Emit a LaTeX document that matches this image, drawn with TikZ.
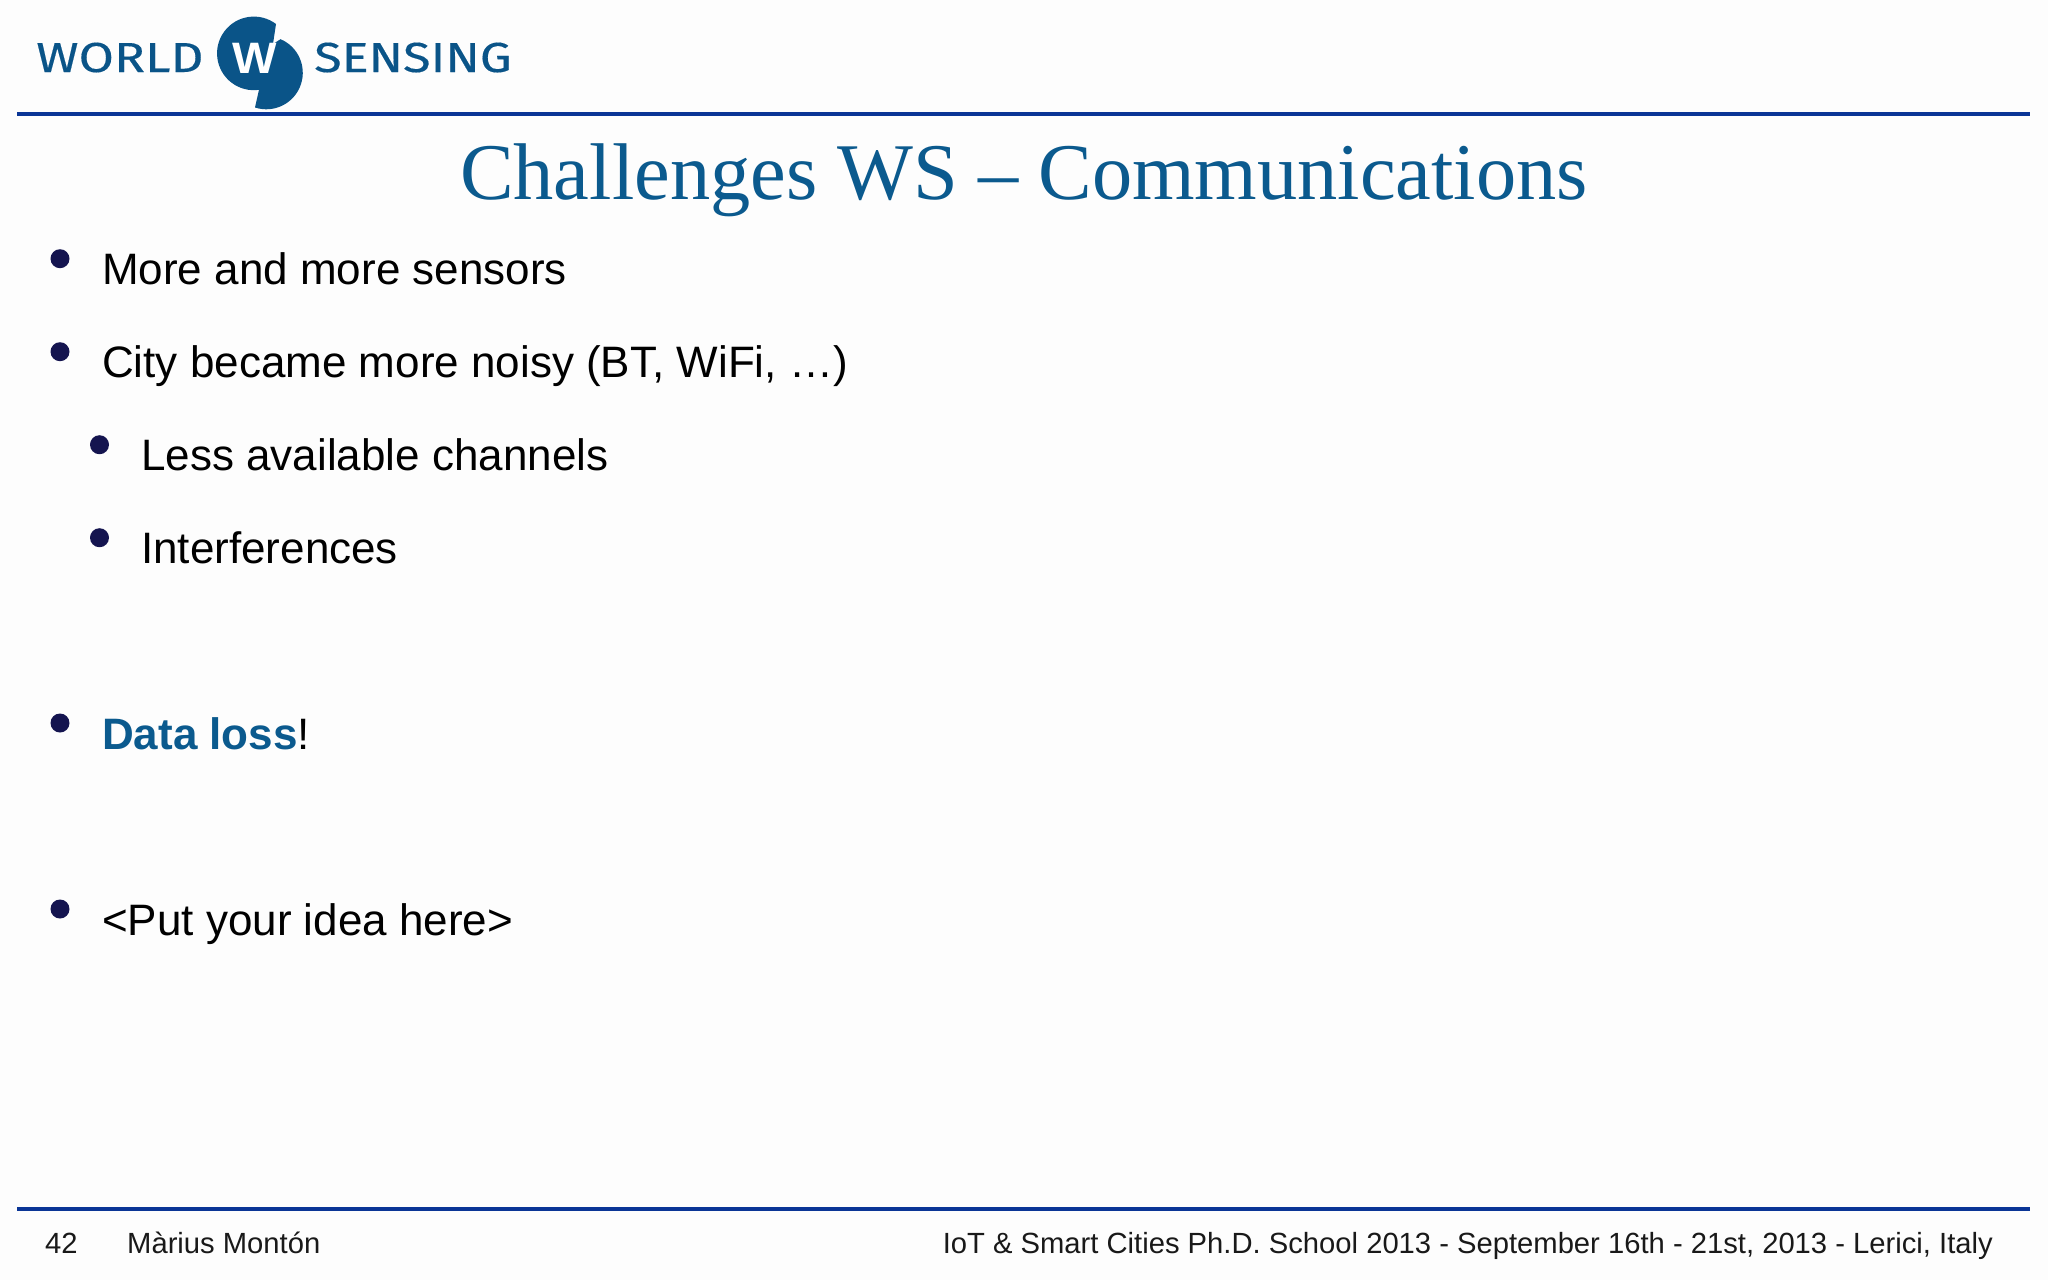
\documentclass[tikz,border=0pt]{standalone}
\usepackage{fontspec}
\setmainfont{Liberation Sans}
\newfontfamily\serifttl{Liberation Serif}
\newfontfamily\logofont[FakeBold=0.3]{Fira Sans}
\definecolor{wsblue}{HTML}{0B5A8E}
\definecolor{logoblue}{HTML}{0A5488}
\definecolor{rulecol}{HTML}{0A3596}
\definecolor{dotcol}{HTML}{14144F}
\definecolor{bgcol}{HTML}{FDFDFD}
\tikzset{
  body/.style={anchor=base west,inner sep=0pt,font=\fontsize{44}{50}\selectfont,text=black},
  foot/.style={inner sep=0pt,font=\fontsize{29.2}{36}\selectfont,text=black!90},
  dot/.style={circle,fill=dotcol,inner sep=0pt,minimum size=19pt},
  rulebar/.style={draw=rulecol,line width=3.5pt},
  logotext/.style={anchor=base west,inner sep=0pt,text=logoblue,font=\logofont\fontsize{42}{46}\selectfont}
}
\begin{document}
\begin{tikzpicture}[x=1pt,y=-1pt]
\path[fill=bgcol] (0,0) rectangle (2048,1280);
\useasboundingbox (0,0) rectangle (2048,1280);
% logo
\fill[logoblue] (276,24) arc[start angle=-53,end angle=-278,radius=36.8]
  -- (255,107.5) arc[start angle=108,end angle=-67,radius=36.5]
  -- (273,44) -- cycle;
\node[logotext,xscale=1.22] (world) at (36,72) {WORLD};
\node[logotext,xscale=1.2] (sensing) at (314,72) {SENSING};
\node[anchor=base,inner sep=0pt,text=white,xscale=1.07,font=\bfseries\fontsize{44}{46}\selectfont] (logow) at (254.5,73) {W};
% rules
\coordinate (hl) at (17,114); \coordinate (hr) at (2030,114);
\coordinate (fl) at (17,1209); \coordinate (fr) at (2030,1209);
\draw[rulebar] (hl) -- (hr);
\draw[rulebar] (fl) -- (fr);
% title
\node[anchor=base,inner sep=0pt,text=wsblue,font=\serifttl\fontsize{80.4}{90}\selectfont] (title) at (1024,199) {Challenges WS – Communications};
% bullets
\node[dot] (b1) at (60,258.7) {};
\node[dot] (b2) at (60,351.7) {};
\node[dot] (b3) at (99.5,444.7) {};
\node[dot] (b4) at (99.5,537.7) {};
\node[dot] (b5) at (60,723) {};
\node[dot] (b6) at (60,909) {};
\node[body] (t1) at (102,284.7) {More and more sensors};
\node[body] (t2) at (102,377.7) {City became more noisy (BT, WiFi, …)};
\node[body] (t3) at (141,470.7) {Less available channels};
\node[body] (t4) at (141,563.7) {Interferences};
\node[body] (t5) at (102,749) {\textcolor{wsblue}{\bfseries Data loss}!};
\node[body] (t6) at (102,935) {<Put your idea here>};
% footer
\node[foot,anchor=base west] (n) at (45,1253) {42};
\node[foot,anchor=base west] (a) at (127,1253) {Màrius Montón};
\node[foot,anchor=base east] (c) at (1993,1253) {IoT \& Smart Cities Ph.D. School 2013 - September 16th - 21st, 2013 - Lerici, Italy};
\end{tikzpicture}
\end{document}
